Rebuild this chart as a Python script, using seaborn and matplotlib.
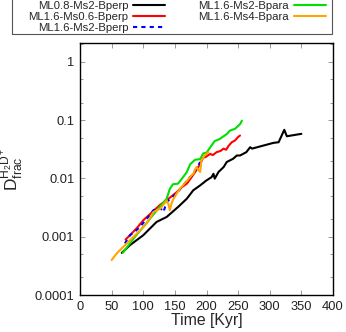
import numpy as np
import pandas as pd
import matplotlib
matplotlib.use("Agg")
import matplotlib.pyplot as plt
import seaborn as sns
from matplotlib.patches import Rectangle
from matplotlib.ticker import FixedLocator, FuncFormatter

# ---------------- data ----------------
labels = ["ML0.8-Ms2-Bperp", "ML1.6-Ms0.6-Bperp", "ML1.6-Ms2-Bperp",
          "ML1.6-Ms2-Bpara", "ML1.6-Ms4-Bpara"]
colors = ["#000000", "#ff0000", "#0000ff", "#00e000", "#ffa500"]

t_black = [66, 79, 100, 121, 137, 155, 169, 179, 190, 200, 208, 211, 213, 219,
           227, 232, 242, 248, 253, 263, 269, 272, 290, 306, 314, 323, 327, 350]
d_black = [5.28e-4, 7.16e-4, 1.06e-3, 1.79e-3, 2.18e-3, 3.23e-3, 4.50e-3, 6.24e-3,
           7.59e-3, 9.25e-3, 0.0105, 0.0120, 0.0099, 0.0129, 0.0156, 0.0191, 0.0217,
           0.0247, 0.0247, 0.0282, 0.0343, 0.0324, 0.0366, 0.0407, 0.0417, 0.0681,
           0.0528, 0.0581]

t_red = [72, 79, 90, 100, 113, 126, 140, 153, 160, 169, 177, 184, 190, 195, 198,
         206, 210, 216, 222, 227, 231, 235, 240, 245, 250, 253]
d_red = [8.91e-4, 1.06e-3, 1.41e-3, 1.91e-3, 2.57e-3, 3.47e-3, 4.47e-3, 5.82e-3,
         6.92e-3, 8.13e-3, 0.0107, 0.0138, 0.0178, 0.0229, 0.0231, 0.0263, 0.0251,
         0.0282, 0.0295, 0.0324, 0.0310, 0.0363, 0.0417, 0.0447, 0.0513, 0.0543]

t_blue = [71, 79, 88, 95, 105, 116, 124, 128, 132, 137, 145, 153, 161, 167, 171,
          177, 182, 186, 190]
d_blue = [7.66e-4, 1.06e-3, 1.26e-3, 1.48e-3, 2.0e-3, 2.84e-3, 3.16e-3, 3.02e-3,
          2.65e-3, 3.94e-3, 4.68e-3, 5.62e-3, 7.10e-3, 8.51e-3, 9.89e-3, 0.0112,
          0.0137, 0.0158, 0.0191]

t_green = [67.5, 80, 87, 105, 116, 126, 137, 142, 147, 155, 163, 169, 174, 182,
           190, 195, 200, 207, 213, 220, 232, 237, 245, 253, 256]
d_green = [5.28e-4, 7.94e-4, 1.0e-3, 1.70e-3, 2.40e-3, 3.24e-3, 4.47e-3, 6.61e-3,
           7.94e-3, 8.13e-3, 0.0105, 0.0129, 0.0174, 0.0209, 0.0214, 0.0269, 0.0275,
           0.0355, 0.0437, 0.0468, 0.0575, 0.0661, 0.0708, 0.0851, 0.0977]

t_orange = [50, 58, 66, 74, 82, 90, 98, 105, 111, 116, 121, 127, 132, 137, 140,
            142, 145, 148, 153, 158, 166, 174, 179, 184, 187, 190, 192, 196, 200, 203]
d_orange = [3.98e-4, 5.16e-4, 6.31e-4, 7.66e-4, 9.33e-4, 1.135e-3, 1.38e-3, 1.68e-3,
            2.09e-3, 2.65e-3, 2.82e-3, 3.03e-3, 3.55e-3, 4.21e-3, 3.55e-3, 2.84e-3,
            3.80e-3, 4.50e-3, 5.50e-3, 6.65e-3, 8.32e-3, 0.0105, 0.0120, 0.0156,
            0.0141, 0.0129, 0.0203, 0.0240, 0.0264, 0.0282]

series_t = [t_black, t_red, t_blue, t_green, t_orange]
series_d = [d_black, d_red, d_blue, d_green, d_orange]
styles = ["-", "-", (0, (2, 2)), "-", "-"]

xticks = [0, 50, 100, 150, 200, 250, 300, 350, 400]
yticks = [1e-4, 1e-3, 1e-2, 1e-1, 1]
ytick_labels = ["0.0001", "0.001", "0.01", "0.1", "1"]

# ---------------- style ----------------
sns.set_theme(style="ticks")
plt.rcParams["font.family"] = ["Liberation Sans", "DejaVu Sans"]
plt.rcParams["mathtext.fontset"] = "custom"
plt.rcParams["mathtext.rm"] = "Liberation Sans"
plt.rcParams["mathtext.it"] = "Liberation Sans"

W, H = 346, 332
fig = plt.figure(figsize=(W / 100, H / 100), dpi=100)
ax = fig.add_axes([80 / W, 1 - 295 / H, 253 / W, 252 / H])

handles = []
for t, d, c, ls, lab in zip(series_t, series_d, colors, styles, labels):
    df = pd.DataFrame({"t": t, "d": d})
    sns.lineplot(data=df, x="t", y="d", ax=ax, color=c, lw=1.5, sort=False,
                 estimator=None, label=lab, legend=False)
    ax.lines[-1].set_linestyle(ls)
    handles.append(ax.lines[-1])

ax.set_yscale("log")
ax.set_xlim(0, 400)
ax.set_ylim(1e-4, 2.1)
ax.xaxis.set_major_locator(FixedLocator(xticks))
ax.yaxis.set_major_locator(FixedLocator(yticks))
ax.yaxis.set_major_formatter(FuncFormatter(
    lambda v, p: ytick_labels[yticks.index(v)] if v in yticks else ""))
minor = [m * 10.0 ** e for e in range(-4, 1) for m in (2, 5)]
ax.yaxis.set_minor_locator(FixedLocator(minor))
ax.yaxis.set_minor_formatter(FuncFormatter(lambda v, p: ""))

ax.tick_params(which="both", direction="in", top=True, right=True,
               labelsize=9.3, colors="#222222", pad=4.0)
ax.tick_params(which="major", length=3.5, width=0.6, color="#888888")
ax.tick_params(which="minor", length=2.2, width=0.6, color="#888888")
for s in ax.spines.values():
    s.set_color("black")
    s.set_linewidth(1.0)

ax.set_xlabel("Time [Kyr]", fontsize=11.4, labelpad=0.5)
ax.set_ylabel(r"$\mathregular{D_{frac}^{H_2D^+}}$", fontsize=12.5, labelpad=6)

# ---------------- legend ----------------
fig.add_artist(Rectangle((12 / W, 1 - 34 / H), 320 / W, 40 / H,
                         transform=fig.transFigure, fill=False,
                         edgecolor="#555555", lw=0.8))
leg = fig.legend(handles=handles, labels=labels, ncol=2, markerfirst=False,
                 frameon=False, fontsize=8.2, loc="upper right",
                 bbox_to_anchor=(326 / W, 1 - 1.0 / H),
                 handlelength=2.8, handletextpad=0.45, columnspacing=2.9,
                 labelspacing=0.08, borderpad=0.0, borderaxespad=0.0)

fig.savefig("out.png", dpi=100)
